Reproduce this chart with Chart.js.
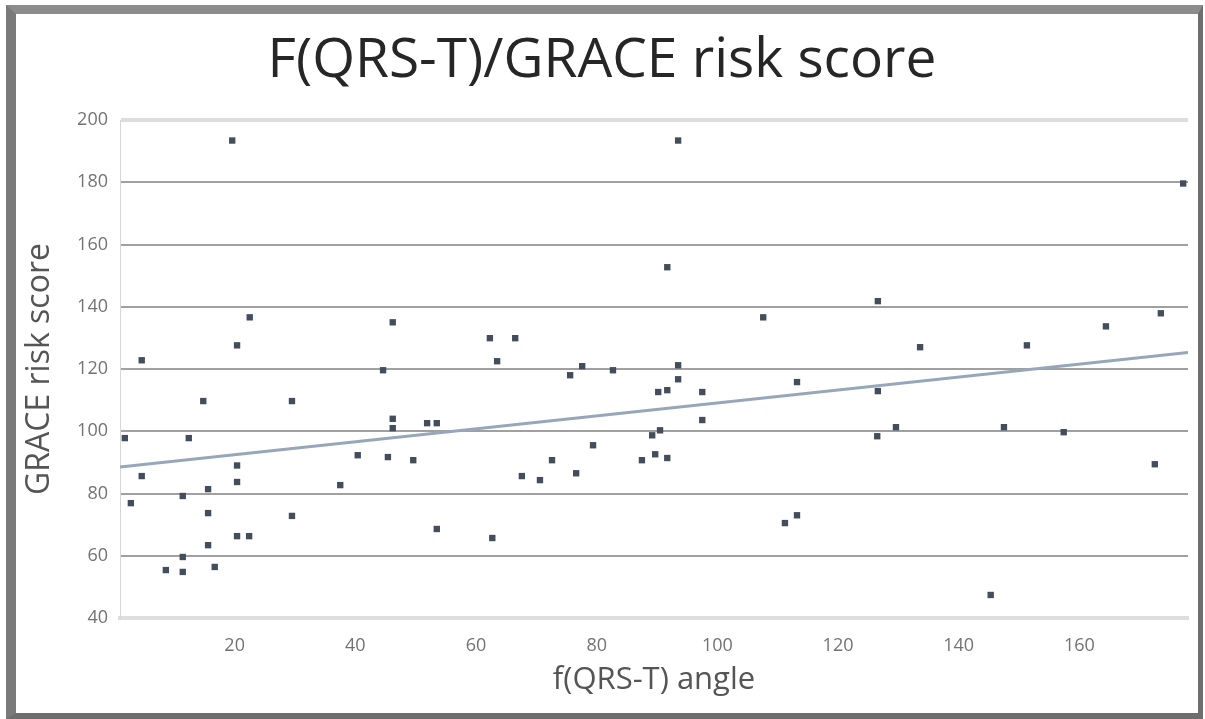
<!DOCTYPE html>
<html>
<head>
<meta charset="utf-8">
<script src="https://cdn.jsdelivr.net/npm/chart.js@4/dist/chart.umd.min.js"></script>
<style>
    html, body { margin: 0; padding: 0; background: #fff; }
    #frame {
        position: absolute;
        left: 6px;
        top: 5px;
        width: 1197px;
        height: 714px;
        box-sizing: border-box;
        border-left: 10px solid #7a7a7a;
        border-top: 9px solid #8c8c8c;
        border-right: 5px solid #6e6e6e;
        border-bottom: 6px solid #6e6e6e;
        background: #fff;
    }
    #scatter { display: block; }
</style>
</head>
<body>
<div id="frame">
    <canvas id="scatter" width="1182" height="699"></canvas>
</div>
<script>
// f(QRS-T) angle vs GRACE risk score
const angle = [
    4.6, 20.4, 44.6, 14.8, 29.5, 1.8, 12.4, 46.2, 46.2, 40.4,
    45.4, 20.4, 4.6, 20.4, 37.5, 11.4, 15.6, 2.8, 15.6, 29.5,
    20.4, 22.4, 15.6, 11.4, 16.7, 8.6, 11.4, 19.6, 22.5, 46.2,
    93.5, 91.7, 107.6, 62.3, 66.5, 63.5, 75.6, 77.6, 82.7, 93.5,
    93.5, 90.2, 91.7, 97.5, 113.2, 97.5, 51.9, 53.5, 89.2, 90.5,
    79.4, 49.6, 87.5, 89.7, 91.7, 72.6, 67.6, 70.6, 76.6, 53.5,
    62.7, 111.2, 113.2, 177.2, 126.6, 164.4, 173.5, 133.6, 151.3, 126.6,
    126.5, 129.6, 147.5, 157.4, 172.5, 145.3
];
const grace = [
    122.8, 127.6, 119.6, 109.7, 109.7, 97.8, 97.8, 104, 101, 92.3,
    91.7, 89, 85.6, 83.7, 82.7, 79.2, 81.4, 76.9, 73.7, 72.8,
    66.3, 66.3, 63.4, 59.6, 56.4, 55.4, 54.8, 193.4, 136.6, 135,
    193.4, 152.7, 136.6, 129.9, 129.9, 122.5, 118, 120.9, 119.6, 121.2,
    116.7, 112.6, 113.2, 112.6, 115.8, 103.6, 102.6, 102.6, 98.7, 100.3,
    95.5, 90.7, 90.7, 92.6, 91.4, 90.7, 85.6, 84.3, 86.5, 68.6,
    65.7, 70.5, 73, 179.6, 141.8, 133.7, 137.9, 127, 127.6, 112.9,
    98.4, 101.3, 101.3, 99.7, 89.4, 47.4
];

// linear trendline end points
const trendAngle = [1, 178];
const trendGrace = [88.5, 125.3];

const xTicks = [20, 40, 60, 80, 100, 120, 140, 160];
const yTicks = [40, 60, 80, 100, 120, 140, 160, 180, 200];

const family = "'Open Sans', 'DejaVu Sans', sans-serif";
const tickFont = { family: family, size: 18 };

const points = angle.map((a, i) => ({ x: a, y: grace[i] }));
const trend = trendAngle.map((a, i) => ({ x: a, y: trendGrace[i] }));

const edgeTick = (c) => c.tick && (c.tick.value === 200 || c.tick.value === 40);

const ctx = document.getElementById('scatter').getContext('2d');
window.scatterChart = new Chart(ctx, {
    type: 'scatter',
    data: {
        datasets: [
            {
                label: 'Trend',
                type: 'line',
                data: trend,
                borderColor: '#97a7ba',
                borderWidth: 3,
                pointRadius: 0,
                fill: false,
                order: 2
            },
            {
                label: 'GRACE risk score',
                data: points,
                pointStyle: 'rect',
                pointRadius: 4.5,
                backgroundColor: '#434d5c',
                borderColor: '#434d5c',
                borderWidth: 0,
                order: 1
            }
        ]
    },
    options: {
        responsive: false,
        animation: false,
        layout: { padding: { left: 0, right: 10, top: 0, bottom: 0 } },
        plugins: {
            legend: { display: false },
            tooltip: { enabled: false },
            title: {
                display: true,
                text: 'F(QRS-T)/GRACE risk score',
                color: '#262626',
                font: { family: family, size: 55, weight: 'normal' },
                padding: { top: 14, bottom: 26 }
            }
        },
        scales: {
            x: {
                type: 'linear',
                min: 1,
                max: 178,
                afterFit: (scale) => { scale.height = 95; },
                afterBuildTicks: (scale) => {
                    scale.ticks = xTicks.map(v => ({ value: v }));
                },
                grid: { display: false, drawTicks: false },
                border: { display: true, color: '#dedede', width: 4 },
                ticks: { color: '#737373', font: tickFont, padding: 17 },
                title: {
                    display: true,
                    text: 'f(QRS-T) angle',
                    color: '#555',
                    font: { family: family, size: 31 },
                    padding: { top: 2, bottom: 14 }
                }
            },
            y: {
                type: 'linear',
                min: 40,
                max: 200,
                afterFit: (scale) => { scale.width = 104; },
                afterBuildTicks: (scale) => {
                    scale.ticks = yTicks.map(v => ({ value: v }));
                },
                grid: {
                    drawTicks: false,
                    color: (c) => edgeTick(c) ? '#dedede' : '#a0a0a0',
                    lineWidth: (c) => edgeTick(c) ? 4 : 2
                },
                border: { display: true, color: '#d6d6d6', width: 1 },
                ticks: { color: '#737373', font: tickFont, padding: 12 },
                title: {
                    display: true,
                    text: 'GRACE risk score',
                    color: '#555',
                    font: { family: family, size: 32 },
                    padding: { top: 5, bottom: 0 }
                }
            }
        }
    }
});
</script>
</body>
</html>
